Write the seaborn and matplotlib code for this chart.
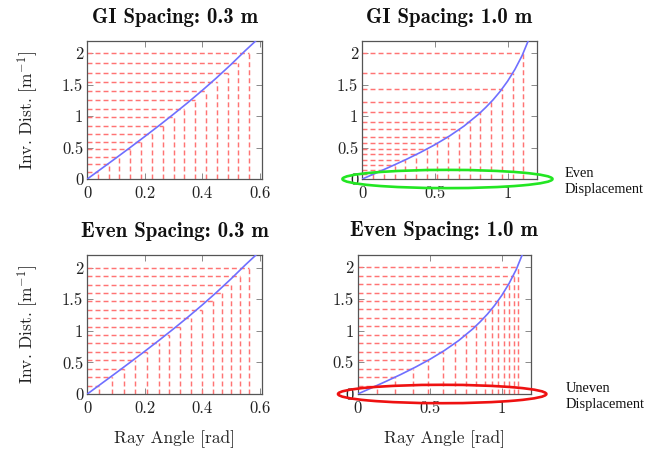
import matplotlib
matplotlib.use("Agg")
import matplotlib.pyplot as plt
from matplotlib.patches import Ellipse
import seaborn as sns
import pandas as pd

# ---- sampled ray angles [rad] and inverse distances [1/m] per panel ----
gi03_angle = [0.037, 0.075, 0.112, 0.150, 0.188, 0.225, 0.262, 0.300,
              0.338, 0.375, 0.412, 0.450, 0.488, 0.525, 0.562]
gi03_inv = [0.116, 0.234, 0.355, 0.480, 0.590, 0.720, 0.850, 0.980,
            1.110, 1.260, 1.400, 1.540, 1.680, 1.840, 2.000]

gi10_angle = [0.074, 0.148, 0.222, 0.296, 0.370, 0.443, 0.517, 0.591,
              0.665, 0.739, 0.813, 0.887, 0.961, 1.035, 1.108]
gi10_inv = [0.080, 0.150, 0.220, 0.310, 0.400, 0.480, 0.580, 0.670,
            0.790, 0.910, 1.060, 1.230, 1.430, 1.690, 2.000]

ev03_angle = [0.042, 0.085, 0.128, 0.167, 0.207, 0.248, 0.285, 0.323,
              0.362, 0.399, 0.436, 0.469, 0.500, 0.533, 0.562]
ev03_inv = [0.133, 0.267, 0.400, 0.533, 0.667, 0.800, 0.933, 1.067,
            1.200, 1.333, 1.467, 1.600, 1.733, 1.867, 2.000]

ev10_angle = [0.133, 0.261, 0.381, 0.490, 0.590, 0.677, 0.754, 0.820,
              0.880, 0.930, 0.975, 1.015, 1.050, 1.082, 1.110]
ev10_inv = [0.133, 0.267, 0.400, 0.533, 0.667, 0.800, 0.933, 1.067,
            1.200, 1.333, 1.467, 1.600, 1.733, 1.867, 2.000]

# ---- continuous inverse-distance curves ----
curve03_angle = [0.0, 0.05, 0.10, 0.15, 0.20, 0.25, 0.30, 0.35, 0.40,
                 0.45, 0.50, 0.55, 0.587]
curve03_inv = [0.0, 0.167, 0.334, 0.504, 0.676, 0.851, 1.031, 1.216, 1.409,
               1.610, 1.821, 2.043, 2.200]

curve10_angle = [0.0, 0.1, 0.2, 0.3, 0.4, 0.5, 0.6, 0.7, 0.8, 0.85, 0.9,
                 0.95, 1.0, 1.05, 1.1, 1.142]
curve10_inv = [0.0, 0.100, 0.203, 0.309, 0.423, 0.546, 0.684, 0.842, 1.030,
               1.140, 1.260, 1.398, 1.557, 1.743, 1.965, 2.200]

titles = ["GI Spacing: 0.3 m", "GI Spacing: 1.0 m",
          "Even Spacing: 0.3 m", "Even Spacing: 1.0 m"]
xticks_03 = [0, 0.2, 0.4, 0.6]
xticks_10 = [0, 0.5, 1]
yticks = [0, 0.5, 1, 1.5, 2]

sns.set_style("ticks")
plt.rcParams.update({
    "font.family": "serif",
    "font.serif": ["cmr10"],
    "mathtext.fontset": "cm",
    "axes.formatter.use_mathtext": True,
    "axes.unicode_minus": False,
})

fig = plt.figure(figsize=(6.67, 4.49), dpi=100)
W, H = 667.0, 449.0


def add_axes(left, top, right, bottom):
    return fig.add_axes([left / W, 1 - bottom / H, (right - left) / W, (bottom - top) / H])


axes = [
    add_axes(87.3, 40.7, 262.0, 179.0),
    add_axes(362.3, 40.7, 536.7, 179.0),
    add_axes(87.3, 255.0, 261.7, 394.0),
    add_axes(357.7, 254.5, 530.7, 394.0),
]

panels = [
    (gi03_angle, gi03_inv, curve03_angle, curve03_inv, 0.608, xticks_03),
    (gi10_angle, gi10_inv, curve10_angle, curve10_inv, 1.2, xticks_10),
    (ev03_angle, ev03_inv, curve03_angle, curve03_inv, 0.607, xticks_03),
    (ev10_angle, ev10_inv, curve10_angle, curve10_inv, 1.2, xticks_10),
]

red = "#ff7474"
blue = "#6f6fff"
dash = (0, (3.4, 2.1))

for i, (ax, (sa, si, ca, ci, xmax, xt)) in enumerate(zip(axes, panels)):
    ax.vlines(sa, 0, si, colors=red, linestyles=dash, linewidth=1.05, zorder=1)
    ax.hlines(si, 0, sa, colors=red, linestyles=dash, linewidth=1.05, zorder=1)
    df = pd.DataFrame({"angle": ca, "inv": ci})
    sns.lineplot(data=df, x="angle", y="inv", ax=ax, color=blue,
                 linewidth=1.2, sort=False, zorder=3)
    ax.set_xlim(0, xmax)
    ax.set_ylim(0, 2.2)
    ax.set_xticks(xt)
    ax.set_xticklabels([f"{v:g}" for v in xt])
    ax.set_yticks(yticks)
    ax.set_yticklabels([f"{v:g}" for v in yticks])
    ax.tick_params(direction="in", top=True, right=True, length=4,
                   width=0.7, color="#8a8a8a", labelsize=12,
                   labelcolor="#222222")
    ax.tick_params(axis="x", pad=5)
    ax.tick_params(axis="y", pad=3)
    for sp in ax.spines.values():
        sp.set_color("#555555")
        sp.set_linewidth(0.9)
    ax.set_title(titles[i], fontsize=15, family="cmb10", pad=13,
                 color="#111111")
    ax.set_xlabel("")
    ax.set_ylabel("")
    if i % 2 == 0:
        ax.set_ylabel(r"Inv. Dist. [m$^{-1}$]", fontsize=12.5, color="#222222")
        ax.yaxis.set_label_coords(-0.27, 0.5)
    if i >= 2:
        ax.set_xlabel("Ray Angle [rad]", fontsize=12.5, color="#222222")
        ax.xaxis.set_label_coords(0.5, -0.26)

# highlight of the x-axis sampling in the 1.0 m panels
for ax, col, txt, tx in [(axes[1], "#22e622", "Even\nDisplacement", 1.395),
                         (axes[3], "#ee1111", "Uneven\nDisplacement", 1.44)]:
    e = Ellipse((0.586, 0.0), 1.445, 0.29, fill=False, edgecolor=col,
                linewidth=1.9, clip_on=False, zorder=5)
    ax.add_patch(e)
    ax.text(tx, -0.04, txt, fontsize=10.4, family="Liberation Serif",
            ha="left", va="center", linespacing=1.3, color="#111111",
            clip_on=False)

fig.savefig("out.png", dpi=100)
